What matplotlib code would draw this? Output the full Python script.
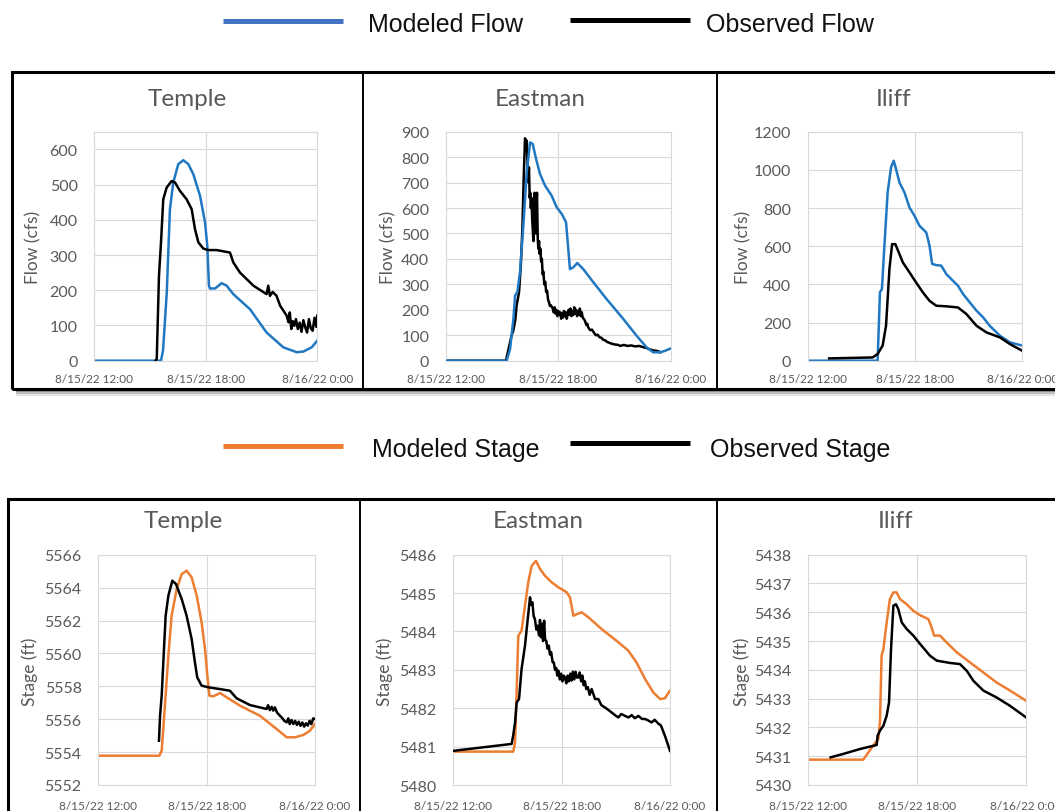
import matplotlib
matplotlib.use("Agg")
import matplotlib.pyplot as plt
from matplotlib.lines import Line2D
from matplotlib.patches import Rectangle

# ---- data (hours after 8/15/22 00:00) ----
sites = ["Temple", "Eastman", "Iliff"]
xtick_hours = [12, 18, 24]
xtick_labels = ["8/15/22 12:00", "8/15/22 18:00", "8/16/22 0:00"]

# Temple flow (cfs)
temple_mod_flow_t = [12, 15.59, 15.7, 15.9, 16.07, 16.25, 16.52, 16.79, 17.06, 17.33, 17.69,
                     17.96, 18.08, 18.17, 18.22, 18.5, 18.85, 19.12, 19.48, 20.38, 21.27,
                     22.17, 22.89, 23.25, 23.7, 24]
temple_mod_flow = [0, 0, 30, 194, 430, 506, 558, 569, 558, 529, 468,
                   392, 326, 213, 205, 205, 220, 213, 189, 146, 80,
                   38, 24, 26, 38, 57]
temple_obs_flow_t = [15.3, 15.36, 15.48, 15.59, 15.71, 15.89, 16.16, 16.34, 16.61, 16.97, 17.24,
                     17.42, 17.6, 17.87, 18.14, 18.58, 19.3, 19.48, 19.84, 20.56, 21.27,
                     21.36, 21.45, 21.6, 21.81, 22.0, 22.2, 22.35, 22.45, 22.52, 22.6,
                     22.68, 22.76, 22.85, 22.95, 23.05, 23.15, 23.25, 23.35, 23.45, 23.55,
                     23.65, 23.75, 23.85, 23.95, 24]
temple_obs_flow = [0, 5, 241, 336, 458, 491, 510, 506, 482, 458, 430,
                   373, 336, 318, 314, 314, 307, 279, 250, 213, 189,
                   213, 184, 195, 184, 156, 140, 128, 109, 137, 90,
                   112, 99, 118, 90, 108, 82, 115, 95, 80, 118,
                   92, 85, 122, 96, 128]

# Eastman flow (cfs)
eastman_mod_flow_t = [12, 15.24, 15.42, 15.6, 15.69, 15.81, 15.95, 16.13, 16.31, 16.49, 16.63,
                      16.81, 17.02, 17.29, 17.64, 17.91, 18.18, 18.41, 18.53, 18.62, 18.8,
                      19.01, 19.33, 19.87, 20.58, 21.47, 22.18, 22.72, 23.07, 23.43, 23.7, 24]
eastman_mod_flow = [0, 0, 46, 164, 256, 269, 347, 531, 740, 858, 852,
                    793, 734, 688, 649, 603, 577, 544, 439, 360, 367,
                    384, 360, 308, 242, 164, 98, 52, 33, 33, 39, 48]
eastman_obs_flow_t = [12, 15.2, 15.3, 15.5, 15.6, 15.7, 15.77, 15.9, 16.0, 16.08, 16.15, 16.22,
                      16.27, 16.31, 16.35, 16.4, 16.43, 16.47, 16.5, 16.53, 16.57, 16.6, 16.63,
                      16.67, 16.7, 16.73, 16.76, 16.8, 16.83, 16.86, 16.9, 16.93, 16.97, 17.0,
                      17.04, 17.08, 17.12, 17.16, 17.2, 17.25, 17.3, 17.35, 17.4, 17.45, 17.5,
                      17.55, 17.6, 17.7, 17.75, 17.8, 17.85, 17.9, 17.95, 18.0, 18.05, 18.1,
                      18.15, 18.2, 18.25, 18.3, 18.35, 18.4, 18.45, 18.5, 18.55, 18.6, 18.65,
                      18.7, 18.75, 18.8, 18.85, 18.9, 18.95, 19.0, 19.05, 19.1, 19.15, 19.2,
                      19.25, 19.3, 19.4, 19.45, 19.5, 19.55, 19.6, 19.7, 19.8, 19.9, 20.0,
                      20.1, 20.2, 20.3, 20.4, 20.5, 20.6, 20.8, 21.0, 21.2, 21.3, 21.5, 21.7,
                      21.9, 22.1, 22.3, 22.5, 22.7, 22.9, 23.1, 23.3, 23.45]
eastman_obs_flow = [0, 0, 33, 98, 120, 160, 216, 269, 380, 520, 720, 874,
                    860, 865, 780, 700, 760, 640, 660, 600, 640, 560, 520,
                    470, 560, 660, 540, 500, 610, 660, 480, 440, 470, 420,
                    440, 390, 400, 340, 350, 300, 310, 270, 275, 240, 230,
                    215, 218, 205, 190, 210, 185, 200, 175, 195, 180, 190,
                    165, 185, 170, 195, 175, 190, 165, 185, 200, 180, 205,
                    175, 195, 180, 210, 185, 200, 175, 195, 180, 205, 175,
                    190, 170, 160, 150, 140, 145, 130, 120, 122, 110, 100,
                    102, 92, 90, 82, 80, 74, 68, 64, 62, 58, 62, 58,
                    60, 56, 58, 54, 50, 44, 40, 38, 33]

# Iliff flow (cfs)
iliff_mod_flow_t = [12, 15.91, 16.04, 16.15, 16.29, 16.47, 16.66, 16.81, 16.94, 17.13, 17.41,
                    17.69, 17.97, 18.25, 18.63, 18.81, 18.96, 19.19, 19.47, 19.75, 20.12,
                    20.4, 20.69, 21.06, 21.44, 21.81, 22.18, 22.75, 23.31, 24]
iliff_mod_flow = [0, 0, 358, 376, 603, 882, 1013, 1048, 1004, 934, 882,
                  803, 760, 707, 672, 603, 507, 501, 498, 454, 419,
                  393, 349, 306, 262, 227, 183, 131, 96, 79]
iliff_obs_flow_t = [13.2, 15.63, 15.91, 16.19, 16.38, 16.57, 16.72, 16.9, 17.09, 17.32, 17.69,
                    18.06, 18.44, 18.81, 19.19, 19.75, 20.4, 20.87, 21.44, 22.0, 22.75,
                    23.31, 24]
iliff_obs_flow = [12, 17, 35, 79, 183, 480, 611, 611, 568, 515, 463,
                  410, 358, 314, 288, 285, 279, 245, 183, 148, 122,
                  87, 52]

# Temple stage (ft)
temple_mod_stage_t = [12, 15.38, 15.51, 15.69, 15.88, 16.06, 16.34, 16.62, 16.89, 17.17, 17.45,
                      17.72, 17.91, 18.04, 18.15, 18.37, 18.74, 19.11, 19.85, 20.95, 21.88,
                      22.43, 22.89, 23.35, 23.72, 24]
temple_mod_stage = [5553.78, 5553.78, 5554.09, 5556.82, 5559.86, 5562.29, 5563.91, 5564.82,
                    5565.03, 5564.62, 5563.51, 5561.89, 5560.27, 5558.64, 5557.43, 5557.39,
                    5557.59, 5557.33, 5556.82, 5556.21, 5555.40, 5554.90, 5554.90, 5555.04,
                    5555.30, 5555.71]
temple_obs_stage_t = [15.36, 15.42, 15.51, 15.6, 15.73, 15.88, 16.1, 16.3, 16.62, 16.89, 17.17,
                      17.35, 17.48, 17.72, 18.09, 18.74, 19.29, 19.66, 20.4, 21.32, 21.4,
                      21.5, 21.6, 21.69, 21.78, 21.9, 22.06, 22.2, 22.3, 22.43, 22.52, 22.6,
                      22.7, 22.8, 22.9, 23.0, 23.1, 23.2, 23.3, 23.4, 23.5, 23.6, 23.7,
                      23.8, 23.9, 24]
temple_obs_stage = [5554.69, 5556.21, 5557.43, 5559.46, 5562.29, 5563.51, 5564.42, 5564.22,
                    5563.30, 5562.29, 5560.87, 5559.46, 5558.54, 5558.04, 5557.94, 5557.83,
                    5557.73, 5557.27, 5556.86, 5556.62, 5556.85, 5556.55, 5556.75, 5556.52,
                    5556.72, 5556.4, 5556.21, 5556.05, 5555.9, 5555.81, 5556.05, 5555.7,
                    5555.95, 5555.71, 5555.9, 5555.65, 5555.85, 5555.6, 5555.8, 5555.55,
                    5555.75, 5555.61, 5555.9, 5555.7, 5556.05, 5556.01]

# Eastman stage (ft)
eastman_mod_stage_t = [12, 15.32, 15.42, 15.51, 15.6, 15.78, 15.97, 16.15, 16.34, 16.58, 16.8,
                       17.08, 17.45, 17.82, 18.28, 18.46, 18.55, 18.65, 18.83, 19.11, 19.48,
                       20.22, 21.14, 21.69, 22.15, 22.62, 23.08, 23.45, 23.72, 24]
eastman_mod_stage = [5480.87, 5480.87, 5481.11, 5482.5, 5483.89, 5484.02, 5484.67, 5485.28,
                     5485.71, 5485.84, 5485.63, 5485.45, 5485.28, 5485.15, 5485.02, 5484.89,
                     5484.67, 5484.41, 5484.45, 5484.5, 5484.37, 5484.06, 5483.72, 5483.5,
                     5483.19, 5482.76, 5482.41, 5482.24, 5482.26, 5482.46]
eastman_obs_stage_t = [12, 15.23, 15.32, 15.42, 15.51, 15.64, 15.78, 15.97, 16.12, 16.25, 16.3,
                       16.38, 16.45, 16.52, 16.6, 16.67, 16.75, 16.8, 16.85, 16.92, 16.97, 17.03,
                       17.08, 17.15, 17.22, 17.29, 17.35, 17.42, 17.5, 17.57, 17.63, 17.7, 17.76,
                       17.82, 17.9, 17.97, 18.04, 18.12, 18.18, 18.26, 18.33, 18.4, 18.48, 18.55,
                       18.62, 18.7, 18.77, 18.84, 18.92, 19.0, 19.08, 19.15, 19.22, 19.29, 19.36,
                       19.45, 19.55, 19.66, 19.85, 20.03, 20.2, 20.4, 20.6, 20.77, 20.95, 21.14,
                       21.3, 21.51, 21.7, 21.88, 22.05, 22.25, 22.45, 22.62, 22.8, 22.98, 23.15,
                       23.35, 23.5, 23.72, 23.85, 24]
eastman_obs_stage = [5480.89, 5481.07, 5481.3, 5481.63, 5482.15, 5482.24, 5483.02, 5483.63,
                     5484.32, 5484.89, 5484.7, 5484.76, 5484.4, 5484.32, 5484.05, 5484.15,
                     5483.9, 5484.3, 5483.85, 5484.2, 5483.75, 5484.28, 5483.8, 5483.75,
                     5483.55, 5483.63, 5483.4, 5483.46, 5483.2, 5483.19, 5483.0, 5483.05,
                     5482.85, 5482.98, 5482.75, 5482.9, 5482.7, 5482.85, 5482.8, 5482.65,
                     5482.85, 5482.7, 5482.9, 5482.72, 5482.95, 5482.75, 5482.95, 5482.8,
                     5482.8, 5482.93, 5482.7, 5482.85, 5482.6, 5482.7, 5482.5, 5482.55,
                     5482.35, 5482.5, 5482.24, 5482.24, 5482.08, 5482.02, 5481.95, 5481.89,
                     5481.82, 5481.76, 5481.85, 5481.8, 5481.76, 5481.82, 5481.74, 5481.8,
                     5481.72, 5481.72, 5481.68, 5481.63, 5481.7, 5481.6, 5481.55, 5481.28,
                     5481.1, 5480.89]

# Iliff stage (ft)
iliff_mod_stage_t = [12, 15.03, 15.31, 15.58, 15.86, 15.95, 16.04, 16.14, 16.32, 16.5, 16.69,
                     16.87, 17.05, 17.42, 17.79, 18.16, 18.62, 18.8, 18.93, 19.26, 19.63,
                     20.18, 20.91, 21.65, 22.38, 23.12, 24]
iliff_mod_stage = [5430.88, 5430.88, 5431.13, 5431.37, 5431.6, 5432.18, 5434.49, 5434.72,
                   5435.65, 5436.46, 5436.69, 5436.69, 5436.46, 5436.28, 5436.05, 5435.9,
                   5435.76, 5435.47, 5435.19, 5435.19, 5434.95, 5434.61, 5434.26, 5433.91,
                   5433.56, 5433.28, 5432.93]
iliff_obs_stage_t = [13.23, 13.93, 14.85, 15.77, 15.82, 15.95, 16.14, 16.32, 16.45, 16.56, 16.69,
                     16.83, 16.96, 17.15, 17.42, 17.79, 18.16, 18.71, 19.08, 19.81, 20.36,
                     20.73, 21.1, 21.65, 22.38, 23.12, 24]
iliff_obs_stage = [5430.96, 5431.08, 5431.25, 5431.39, 5431.71, 5431.89, 5432.06, 5432.41,
                   5432.87, 5434.72, 5436.23, 5436.28, 5436.11, 5435.65, 5435.42, 5435.19,
                   5434.9, 5434.49, 5434.32, 5434.24, 5434.2, 5433.97, 5433.62, 5433.28,
                   5433.04, 5432.75, 5432.35]

flow_ylims = [(0, 650), (0, 900), (0, 1200)]
flow_ticks = [range(0, 700, 100), range(0, 1000, 100), range(0, 1400, 200)]
stage_ylims = [(5552, 5566), (5480, 5486), (5430, 5438)]
stage_ticks = [range(5552, 5568, 2), range(5480, 5487, 1), range(5430, 5439, 1)]

W, H = 1055, 812
GRAY = "#595959"
GRID = "#d9d9d9"
FLOW_BLUE = "#1f78c1"
LEG_BLUE = "#4472c4"
ORANGE = "#ed7d31"

plt.rcParams["font.family"] = ["Lato", "DejaVu Sans"]
fig = plt.figure(figsize=(W / 100, H / 100), dpi=100)


def px_box(x0, x1, ytop, ybot):
    return [x0 / W, 1 - ybot / H, (x1 - x0) / W, (ybot - ytop) / H]


def fig_line(x0, x1, y0, y1, color, lw):
    fig.add_artist(Line2D([x0 / W, x1 / W], [1 - y0 / H, 1 - y1 / H], color=color,
                          lw=lw, transform=fig.transFigure, solid_capstyle="butt"))


def style_axes(ax, ylim, yticks, xpad):
    ax.set_xlim(12, 24)
    ax.set_ylim(*ylim)
    ax.set_xticks(xtick_hours)
    ax.set_xticklabels(xtick_labels, fontsize=8.5, color=GRAY)
    ax.set_yticks(list(yticks))
    ax.tick_params(axis="y", length=0, pad=12, labelsize=11.5, labelcolor=GRAY)
    ax.tick_params(axis="x", length=0, pad=xpad)
    ax.grid(True, color=GRID, lw=0.8)
    for s in ax.spines.values():
        s.set_color(GRID)
        s.set_linewidth(0.8)
    ax.set_axisbelow(True)
    ax.patch.set_alpha(0)


# frames (box outlines with a soft shadow under the top row)
for k, a in enumerate([0.10, 0.16, 0.24]):
    fig.add_artist(Rectangle((16 / W, 1 - (397 - 2 * k) / H), 1.1, (7 - 2 * k) / H,
                             transform=fig.transFigure, color="black", alpha=a, lw=0,
                             zorder=-2))
fig.add_artist(Rectangle((12 / W, 1 - 390 / H), 1.1, 317 / H, transform=fig.transFigure,
                         fill=False, edgecolor="black", lw=2.2))
fig.add_artist(Rectangle((8 / W, 1 - 840 / H), 1.1, 340 / H, transform=fig.transFigure,
                         fill=False, edgecolor="black", lw=2.2))
for xd in [362.5, 716.5]:
    fig_line(xd, xd, 73, 390, "black", 1.4)
for xd in [360, 716.5]:
    fig_line(xd, xd, 500, 812, "black", 1.4)

# legends
fig_line(223, 343, 22, 22, LEG_BLUE, 3.6)
fig_line(570, 690, 21, 21, "black", 3.6)
fig_line(223, 343, 447, 447, ORANGE, 3.6)
fig_line(570, 690, 444, 444, "black", 3.6)
leg_font = ["Liberation Sans", "DejaVu Sans"]
for x, y, s in [(368, 25, "Modeled Flow"), (706, 25, "Observed Flow"),
                (372, 450, "Modeled Stage"), (710, 450, "Observed Stage")]:
    fig.text(x / W, 1 - y / H, s, fontsize=18, family=leg_font, va="center", ha="left",
             color="#111111")

flow_boxes = [(94.3, 317.3), (446, 670.7), (807.7, 1022.3)]
stage_boxes = [(98.3, 315), (453.3, 670), (808.3, 1026)]
title_x_top = [187, 540, 893]
title_x_bot = [183, 538, 895]
ylab_x_top = [33, 388, 743]
ylab_x_bot = [30, 385, 742]

flow_series = [
    (temple_mod_flow_t, temple_mod_flow, temple_obs_flow_t, temple_obs_flow),
    (eastman_mod_flow_t, eastman_mod_flow, eastman_obs_flow_t, eastman_obs_flow),
    (iliff_mod_flow_t, iliff_mod_flow, iliff_obs_flow_t, iliff_obs_flow),
]
stage_series = [
    (temple_mod_stage_t, temple_mod_stage, temple_obs_stage_t, temple_obs_stage),
    (eastman_mod_stage_t, eastman_mod_stage, eastman_obs_stage_t, eastman_obs_stage),
    (iliff_mod_stage_t, iliff_mod_stage, iliff_obs_stage_t, iliff_obs_stage),
]

for i in range(3):
    x0, x1 = flow_boxes[i]
    ax = fig.add_axes(px_box(x0, x1, 132.7, 361.7))
    mt, mv, ot, ov = flow_series[i]
    ax.plot(mt, mv, color=FLOW_BLUE, lw=1.8, zorder=3 if i == 1 else 2)
    ax.plot(ot, ov, color="black", lw=1.8, zorder=2 if i == 1 else 3)
    style_axes(ax, flow_ylims[i], flow_ticks[i], 9)
    fig.text(title_x_top[i] / W, 1 - 100 / H, sites[i], fontsize=17.5, color=GRAY,
             ha="center", va="center")
    fig.text(ylab_x_top[i] / W, 1 - 247 / H, "Flow (cfs)", fontsize=12.5, color=GRAY,
             rotation=90, ha="center", va="center")

    x0, x1 = stage_boxes[i]
    ax = fig.add_axes(px_box(x0, x1, 555.7, 786))
    mt, mv, ot, ov = stage_series[i]
    ax.plot(mt, mv, color=ORANGE, lw=1.8, zorder=2)
    ax.plot(ot, ov, color="black", lw=1.8, zorder=3)
    style_axes(ax, stage_ylims[i], stage_ticks[i], 11)
    fig.text(title_x_bot[i] / W, 1 - 522 / H, sites[i], fontsize=17.5, color=GRAY,
             ha="center", va="center")
    fig.text(ylab_x_bot[i] / W, 1 - 672 / H, "Stage (ft)", fontsize=12.5, color=GRAY,
             rotation=90, ha="center", va="center")

fig.savefig("out.png", dpi=100)
